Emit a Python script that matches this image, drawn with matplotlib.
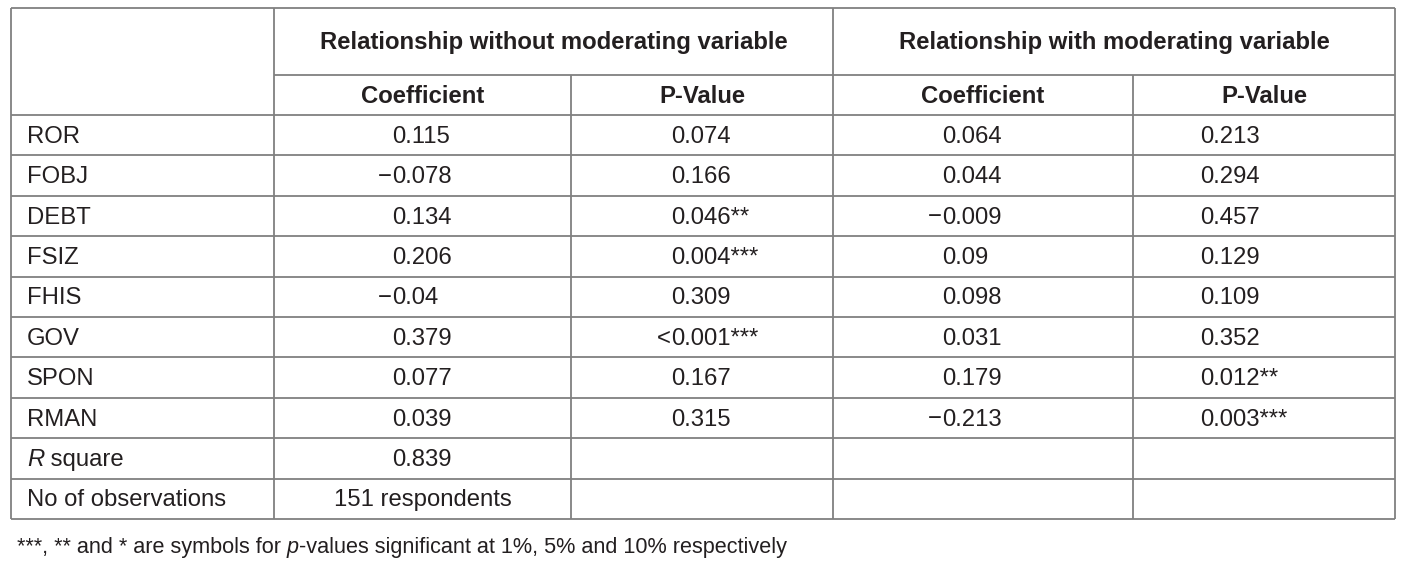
import matplotlib.pyplot as plt

plt.rcParams['font.family'] = ['Liberation Sans', 'DejaVu Sans']

# table content
row_labels = ['ROR', 'FOBJ', 'DEBT', 'FSIZ', 'FHIS', 'GOV', 'SPON', 'RMAN', 'R square', 'No of observations']
coef_without = ['0.115', '−0.078', '0.134', '0.206', '−0.04', '0.379', '0.077', '0.039', '0.839', '151 respondents']
pval_without = ['0.074', '0.166', '0.046**', '0.004***', '0.309', '<0.001***', '0.167', '0.315', '', '']
coef_with = ['0.064', '0.044', '−0.009', '0.09', '0.098', '0.031', '0.179', '−0.213', '', '']
pval_with = ['0.213', '0.294', '0.457', '0.129', '0.109', '0.352', '0.012**', '0.003***', '', '']
group_headers = ['Relationship without moderating variable', 'Relationship with moderating variable']
sub_headers = ['Coefficient', 'P-Value', 'Coefficient', 'P-Value']
footnote = ['***, ** and * are symbols for ', 'p', '-values significant at 1%, 5% and 10% respectively']

W, H = 1415, 564
fig = plt.figure(figsize=(W / 100, H / 100), dpi=100)
ax = fig.add_axes([0, 0, 1, 1])
ax.set_xlim(0, W)
ax.set_ylim(H, 0)
ax.axis('off')

txt_col = '#231f20'
line_col = '#808080'
fs = 17.2

col_x = [11, 274, 571, 833, 1133, 1395]
top, mid, head_bot = 8, 75, 115
row_h = 40.4
row_y = [head_bot + i * row_h for i in range(len(row_labels) + 1)]
digit_x = [392, 671, 942, 1200]
dy = -1  # baseline nudge

# grid lines
lw = 1.3
ax.hlines([top, head_bot] + row_y[1:], col_x[0], col_x[-1], color=line_col, lw=lw)
ax.hlines(mid, col_x[1], col_x[-1], color=line_col, lw=lw)
ax.vlines([col_x[0], col_x[1], col_x[3], col_x[-1]], top, row_y[-1], color=line_col, lw=lw)
ax.vlines([col_x[2], col_x[4]], mid, row_y[-1], color=line_col, lw=lw)


def put(x, y, s, ha='left', **kw):
    return ax.text(x, y + dy, s, ha=ha, va='center_baseline', fontsize=kw.pop('size', fs),
                   color=txt_col, **kw)


# headers
for i, g in enumerate(group_headers):
    put((col_x[1 + 2 * i] + col_x[3 + 2 * i]) / 2, (top + mid) / 2 - 1, g, ha='center', fontweight='bold')
for i, s in enumerate(sub_headers):
    put((col_x[1 + i] + col_x[2 + i]) / 2, (mid + head_bot) / 2, s, ha='center', fontweight='bold')

fig.canvas.draw()
renderer = fig.canvas.get_renderer()


def run_text(x, y, pieces, styles, size):
    # place text pieces one after another on the same baseline
    for piece, style in zip(pieces, styles):
        t = put(x, y, piece, size=size, style=style)
        bb = t.get_window_extent(renderer)
        x = ax.transData.inverted().transform((bb.x1, bb.y0))[0]


# row labels
for r, lab in enumerate(row_labels):
    yc = (row_y[r] + row_y[r + 1]) / 2
    if lab == 'R square':
        run_text(27, yc, ['R', ' square'], ['italic', 'normal'], fs)
    else:
        put(27, yc, lab)

# values
columns = [coef_without, pval_without, coef_with, pval_with]
for c, vals in enumerate(columns):
    for r, v in enumerate(vals):
        if not v:
            continue
        yc = (row_y[r] + row_y[r + 1]) / 2
        if v[0] in '−<':
            put(digit_x[c], yc, v[0], ha='right')
            put(digit_x[c], yc, v[1:])
        elif ' ' not in v:
            put(digit_x[c], yc, v)
        else:
            put((col_x[1 + c] + col_x[2 + c]) / 2, yc, v, ha='center')

run_text(17, 546, footnote, ['normal', 'italic', 'normal'], 15.6)

fig.savefig('out.png', dpi=100)
